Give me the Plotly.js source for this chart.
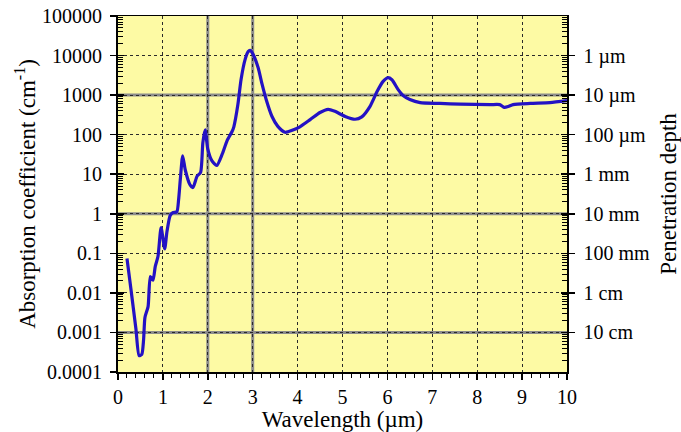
<!DOCTYPE html>
<html><head><meta charset="utf-8">
<script src="https://cdn.plot.ly/plotly-3.0.1.min.js"></script>
<style>body{margin:0;background:#fff}#c{width:681px;height:432px}</style>
</head><body><div id="c"></div>
<script>
// Wavelength (µm) and absorption coefficient (cm^-1)
const wavelength = [0.20,0.29,0.40,0.47,0.53,0.57,0.60,0.67,0.72,0.78,0.83,0.89,0.96,1.04,1.09,1.16,1.22,1.31,1.35,1.39,1.44,1.50,1.60,1.67,1.76,1.84,1.89,1.94,2.00,2.09,2.20,2.32,2.43,2.54,2.58,2.67,2.74,2.83,2.90,2.94,3.00,3.12,3.21,3.30,3.43,3.56,3.72,3.88,4.05,4.28,4.50,4.68,4.83,5.06,5.28,5.43,5.61,5.77,5.90,6.01,6.10,6.24,6.35,6.50,6.73,7.17,7.62,8.29,8.50,8.60,8.69,8.80,9.18,9.62,10.0];
const absorption = [0.074,0.012,0.0012,0.00026,0.00028,0.00066,0.0024,0.0045,0.026,0.021,0.047,0.083,0.45,0.13,0.35,0.89,1.07,1.12,2.3,7.9,29,12.6,5.5,4.6,8.9,11.2,63,132,43,22,16.6,32,71,120,158,575,2450,7900,12600,13500,11200,5000,1860,776,288,162,115,129,158,240,363,437,389,288,245,282,513,1230,2190,2750,2450,1380,977,776,646,617,589,575,575,490,513,575,617,646,724];

const xTickVals = [0,1,2,3,4,5,6,7,8,9,10];
const yTickVals = [0.0001,0.001,0.01,0.1,1,10,100,1000,10000,100000];
const yTickText = ['0.0001','0.001','0.01','0.1','1','10','100','1000','10000','100000'];
const depthTickVals = [10000,1000,100,10,1,0.1,0.01,0.001];
const depthTickText = ['1 µm','10 µm','100 µm','1 mm','10 mm','100 mm','1 cm','10 cm'];
const minorMultipliers = [2,3,4,5,6,7,8,9];
const solidGridX = [2,3];
const solidGridY = [1000,1,0.001];

const minorVals = [];
yTickVals.slice(0,-1).forEach(d => minorMultipliers.forEach(m => minorVals.push(d*m)));

const font = 'Liberation Serif, Times New Roman, serif';
const tickFont = {family: font, size: 20, color: '#000'};
const titleFont = {family: font, size: 23, color: '#000'};
const yRange = [-4, 5];

const shapes = [];
solidGridX.forEach(v => shapes.push({type:'line', xref:'x', yref:'paper', x0:v, x1:v, y0:0, y1:1, layer:'between', line:{color:'#8c8c8c', width:3}}));
solidGridY.forEach(v => shapes.push({type:'line', xref:'paper', yref:'y', x0:0, x1:1, y0:v, y1:v, layer:'between', line:{color:'#8c8c8c', width:3}}));

const ghost = ax => ({x:[5], y:[1], yaxis: ax, type:'scatter', mode:'markers', marker:{opacity:0}, hoverinfo:'skip', showlegend:false});

const data = [{
  x: wavelength, y: absorption, type: 'scatter', mode: 'lines',
  line: {color: '#2412c4', width: 3.2, shape: 'spline', smoothing: 0.6},
  hoverinfo: 'x+y'
}, ghost('y2'), ghost('y3'), ghost('y4')];

const layout = {
  width: 681, height: 432,
  margin: {l: 118, r: 114, t: 16, b: 60},
  paper_bgcolor: '#ffffff',
  plot_bgcolor: '#fdfaa4',
  showlegend: false,
  font: {family: font, color: '#000'},
  shapes: shapes,
  xaxis: {
    range: [0, 10], tickvals: xTickVals, ticks: 'outside', ticklen: 6, tickwidth: 1.5, tickcolor: '#000',
    showline: true, linecolor: '#000', linewidth: 1.5, mirror: true,
    showgrid: true, gridcolor: '#2a2a2a', gridwidth: 1, griddash: 'dot',
    zeroline: false, tickfont: tickFont, ticklabelstandoff: 0,
    minor: {dtick: 0.2, ticks: 'outside', ticklen: 4, tickcolor: '#000', tickwidth: 1, showgrid: false},
    title: {text: 'Wavelength (µm)', font: titleFont, standoff: 2}
  },
  yaxis: {
    type: 'log', range: yRange, tickvals: yTickVals, ticktext: yTickText,
    ticks: 'outside', ticklen: 6, tickwidth: 1.5, tickcolor: '#000',
    showline: true, linecolor: '#000', linewidth: 2,
    showgrid: true, gridcolor: '#2a2a2a', gridwidth: 1, griddash: 'dot',
    zeroline: false, tickfont: tickFont, ticklabelstandoff: 4,
    minor: {tickvals: minorVals, ticks: 'inside', ticklen: 5, tickcolor: '#000', tickwidth: 1, showgrid: false},
    title: {text: 'Absorption coefficient (cm<sup>-1</sup>)', font: titleFont, standoff: 0}
  },
  yaxis3: {
    type: 'log', range: yRange, overlaying: 'y', side: 'left', tickvals: yTickVals,
    ticks: 'inside', ticklen: 6, tickwidth: 1.5, tickcolor: '#000', showticklabels: false,
    showgrid: false, showline: false, zeroline: false
  },
  yaxis2: {
    type: 'log', range: yRange, overlaying: 'y', side: 'right', tickvals: depthTickVals, ticktext: depthTickText,
    ticks: 'outside', ticklen: 6, tickwidth: 1.5, tickcolor: '#000',
    showline: true, linecolor: '#000', linewidth: 1.5,
    showgrid: false, zeroline: false, tickfont: tickFont, ticklabelstandoff: 5,
    minor: {tickvals: minorVals, ticks: 'inside', ticklen: 5, tickcolor: '#000', tickwidth: 1, showgrid: false},
    title: {text: 'Penetration depth', font: titleFont, standoff: 13}
  },
  yaxis4: {
    type: 'log', range: yRange, overlaying: 'y', side: 'right', tickvals: yTickVals,
    ticks: 'inside', ticklen: 6, tickwidth: 1.5, tickcolor: '#000', showticklabels: false,
    showgrid: false, showline: false, zeroline: false
  }
};

Plotly.newPlot('c', data, layout, {staticPlot: true, displayModeBar: false});
</script>
</body></html>
